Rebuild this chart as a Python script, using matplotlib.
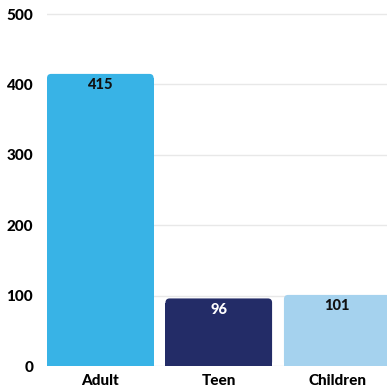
import matplotlib.pyplot as plt
from matplotlib.patches import FancyBboxPatch

plt.rcParams['font.family'] = ['Lato', 'DejaVu Sans']

# data
categories = ['Adult', 'Teen', 'Children']
values = [415, 96, 101]
colors = ['#38b3e6', '#232c67', '#a5d2ee']
label_colors = ['#111111', '#ffffff', '#111111']
yticks = [0, 100, 200, 300, 400, 500]

fig = plt.figure(figsize=(3.87, 3.90), dpi=100)
ax = fig.add_axes([47 / 387, 24 / 390, 1 - 47 / 387, 366 / 390])

xs = list(range(len(categories)))
ax.set_xlim(-0.45, 2.42)
ax.set_ylim(0, 520)

# rounded tops
rx, ry = 0.035, 6.0
bars = ax.bar(xs, values, width=0.9, color=colors, zorder=3)
for b, c in zip(bars, colors):
    x0, w, h = b.get_x(), b.get_width(), b.get_height()
    ax.add_patch(FancyBboxPatch((x0, 0), w, h,
                                boxstyle='round,pad=0,rounding_size=%g' % rx,
                                mutation_aspect=ry / rx, fc=c, ec='none', zorder=3))
    b.set_height(h - ry)

for x, v, lc in zip(xs, values, label_colors):
    ax.text(x, v - 6, str(v), ha='center', va='top', fontsize=10.5,
            fontweight=900, color=lc, zorder=4)

ax.set_yticks(yticks)
ax.set_yticklabels([str(t) for t in yticks], fontsize=11, fontweight=900)
ax.set_xticks(xs)
ax.set_xticklabels(categories, fontsize=11, fontweight=900)
ax.tick_params(length=0, pad=6)
ax.tick_params(axis='y', pad=10)
ax.grid(axis='y', color='#e8e8e8', lw=1, zorder=0)
for s in ax.spines.values():
    s.set_visible(False)

fig.savefig('out.png', dpi=100)
